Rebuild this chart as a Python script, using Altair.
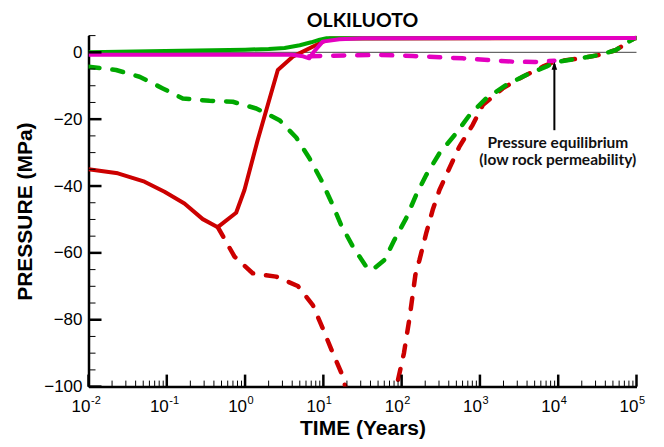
import altair as alt
import pandas as pd

# ---------------- data ----------------
red_solid_t = [0.01, 0.0237, 0.0519, 0.0935, 0.168, 0.288, 0.448, 0.769, 0.982, 1.45, 2.62, 4.06, 8.09, 12.0, 100000]
red_solid_p = [-35.0, -36.2, -38.7, -41.7, -45.2, -49.9, -52.3, -48.0, -41.2, -26.2, -5.3, -1.3, 2.2, 4.1, 4.3]

red_dash_t = [0.448, 0.733, 1.25, 2.49, 4.71, 7.33, 9.82, 12.9, 17.2, 19.1, 40, 86, 107, 127, 150, 169, 206, 249, 304, 407, 547, 809,
              1086, 1954, 3524, 6339, 8933, 18660, 33570, 54830, 73620, 93970, 100000]
red_dash_p = [-52.3, -61.1, -66.1, -67.1, -69.9, -75.6, -82.6, -89.4, -96.2, -100, -130, -100, -90, -79, -66.5, -62.1, -54.1, -47.2, -41.2,
              -34.7, -28.2, -21.7, -15.8, -10.8, -7.3, -4.3, -2.8, -1.8, -0.8, 0.7, 2.7, 4.2, 4.3]

green_dash_t = [0.01, 0.0225, 0.0448, 0.0889, 0.16, 0.351, 0.697, 1.39, 2.75, 4.5, 6.64, 9.38, 12.6, 16.9, 23.8, 35.2, 41.7, 60.3, 80.9,
                114, 153, 206, 304, 497, 735, 1200, 2163, 3890, 7000, 8933, 18660, 33570, 54830, 73620, 93970, 100000]
green_dash_p = [-4.3, -5.3, -7.3, -10.8, -13.8, -14.5, -14.8, -16.8, -20.3, -25.5, -31.7, -38.2, -44.7, -51.7, -58.1, -64.1, -65.2, -62.1,
                -56.1, -49.7, -42.7, -36.7, -30.2, -24.2, -18.8, -13.8, -9.8, -6.8, -4.3, -3.0, -1.8, -0.8, 0.7, 2.7, 4.2, 4.3]

green_solid_t = [0.01, 0.15, 1.0, 2.0, 3.2, 5.0, 7.0, 9.0, 11.0, 100000]
green_solid_p = [0.0, 0.5, 0.8, 1.0, 1.3, 2.1, 3.0, 3.8, 4.2, 4.3]

magenta_solid_t = [0.01, 4.0, 5.5, 6.6, 7.3, 9.8, 16, 32, 100000]
magenta_solid_p = [-0.7, -0.7, -1.2, -1.8, -0.3, 3.2, 3.9, 4.2, 4.3]

magenta_dash_t = [6.6, 20, 52, 139, 600, 2630, 5000, 8933]
magenta_dash_p = [-1.2, -0.9, -0.8, -1.1, -1.8, -2.8, -2.9, -2.5]

x_major = [0.01, 0.1, 1, 10, 100, 1000, 10000, 100000]
x_exponents = ["-2", "-1", "0", "1", "2", "3", "4", "5"]
x_minor = [m * 10.0 ** k for k in range(-2, 5) for m in range(2, 10)]
y_major = [0, -20, -40, -60, -80, -100]
y_minor = [5, -5, -10, -15, -25, -30, -35, -45, -50, -55, -65, -70, -75, -85, -90, -95]

arrow_t = [8933]
arrow_from = [-23.3]
arrow_to = [-3.5]
arrow_head = [-4.0]
note_t = [9900, 9900]
note_p = [-27.2, -32.2]
note_text = ["Pressure equilibrium", "(low rock permeability)"]
title_text = ["OLKILUOTO"]

RED, GREEN, MAGENTA = "#CC0000", "#00A800", "#E400C0"
W, H = 548, 351

xs = alt.Scale(type="log", domain=[0.01, 100000], nice=False)
ys = alt.Scale(domain=[-100, 5], nice=False, zero=False)

x_axis = alt.Axis(title="TIME (Years)", labels=False, ticks=False, grid=False, domain=True,
                  domainColor="black", domainWidth=2.5, titleFont="Liberation Sans", titleFontSize=21,
                  titleFontWeight="bold", titleColor="black", titleY=42, titleBaseline="middle")
y_axis = alt.Axis(title="PRESSURE (MPa)", values=y_major, grid=False, domain=True, domainColor="black",
                  domainWidth=2.5, ticks=True, tickSize=0, labelPadding=6.5, labelFont="Liberation Sans",
                  labelFontSize=17, labelColor="black", titleFont="Liberation Sans", titleFontSize=21,
                  titleFontWeight="bold", titleColor="black", titleX=-63, titleBaseline="middle")

X = alt.X("t:Q", scale=xs, axis=x_axis)
Y = alt.Y("p:Q", scale=ys, axis=y_axis)


def frame(t, p):
    return pd.DataFrame({"t": t, "p": p, "i": list(range(len(t)))})


def line(t, p, color, dashed=False):
    kw = dict(color=color, strokeWidth=4, clip=True, strokeJoin="round")
    if dashed:
        kw.update(strokeDash=[11, 13], strokeCap="round", strokeWidth=4.5)
    return alt.Chart(frame(t, p)).mark_line(**kw).encode(x=X, y=Y, order="i:Q")


zero_line = alt.Chart(pd.DataFrame({"p": [0]})).mark_rule(color="#444444", strokeWidth=1).encode(
    y=Y, x=alt.value(0), x2=alt.value(W))

lines = [
    line(red_solid_t, red_solid_p, RED),
    line(red_dash_t, red_dash_p, RED, True),
    line(green_dash_t, green_dash_p, GREEN, True),
    line(green_solid_t, green_solid_p, GREEN),
    line(magenta_solid_t, magenta_solid_p, MAGENTA),
    line(magenta_dash_t, magenta_dash_p, MAGENTA, True),
]

ymaj = alt.Chart(pd.DataFrame({"p": y_major})).mark_rule(color="black", strokeWidth=2.5).encode(
    y=Y, x=alt.value(0), x2=alt.value(13))
ymin = alt.Chart(pd.DataFrame({"p": y_minor})).mark_rule(color="black", strokeWidth=1).encode(
    y=Y, x=alt.value(0), x2=alt.value(7))
xmaj = alt.Chart(pd.DataFrame({"t": x_major})).mark_rule(color="black", strokeWidth=2.5).encode(
    x=X, y=alt.value(H), y2=alt.value(H - 12))
xmin = alt.Chart(pd.DataFrame({"t": x_minor})).mark_rule(color="black", strokeWidth=1).encode(
    x=X, y=alt.value(H), y2=alt.value(H - 6))

lab_df = pd.DataFrame({"t": x_major, "base": ["10"] * len(x_major), "e": x_exponents})
xlab = alt.Chart(lab_df).mark_text(align="right", baseline="alphabetic", dx=2, font="Liberation Sans",
                                   fontSize=17, color="black").encode(x=X, y=alt.value(H + 25.5), text="base:N")
xexp = alt.Chart(lab_df).mark_text(align="left", baseline="alphabetic", dx=2.5, font="Liberation Sans",
                                   fontSize=11, color="black").encode(x=X, y=alt.value(H + 17), text="e:N")

arrow = alt.Chart(pd.DataFrame({"t": arrow_t, "p": arrow_from, "p2": arrow_to})).mark_rule(
    color="black", strokeWidth=2).encode(x=X, y=Y, y2="p2:Q")
head = alt.Chart(pd.DataFrame({"t": arrow_t, "p": arrow_head})).mark_point(
    shape="M0,-1L0.7,1L-0.7,1Z", size=64, filled=True, color="black", opacity=1).encode(x=X, y=Y)
note = alt.Chart(pd.DataFrame({"t": note_t, "p": note_p, "s": note_text})).mark_text(
    font="Lato", fontSize=15.5, fontWeight="bold", color="#111111", baseline="middle", align="center").encode(
    x=X, y=Y, text="s:N")

title = alt.Chart(pd.DataFrame({"s": title_text})).mark_text(
    font="Lato", fontSize=19.5, fontWeight="bold", color="black", baseline="alphabetic", align="center").encode(
    x=alt.value(W / 2), y=alt.value(-9), text="s:N")

chart = alt.layer(zero_line, *lines, ymin, ymaj, xmin, xmaj, xlab, xexp, arrow, head, note, title).properties(
    width=W, height=H,
    autosize=alt.AutoSizeParams(type="none"),
    padding={"left": 80.5, "top": 27.6, "right": 18, "bottom": 56},
).configure_view(stroke=None)

chart.save("out.html", embed_options={"renderer": "svg", "actions": False})
